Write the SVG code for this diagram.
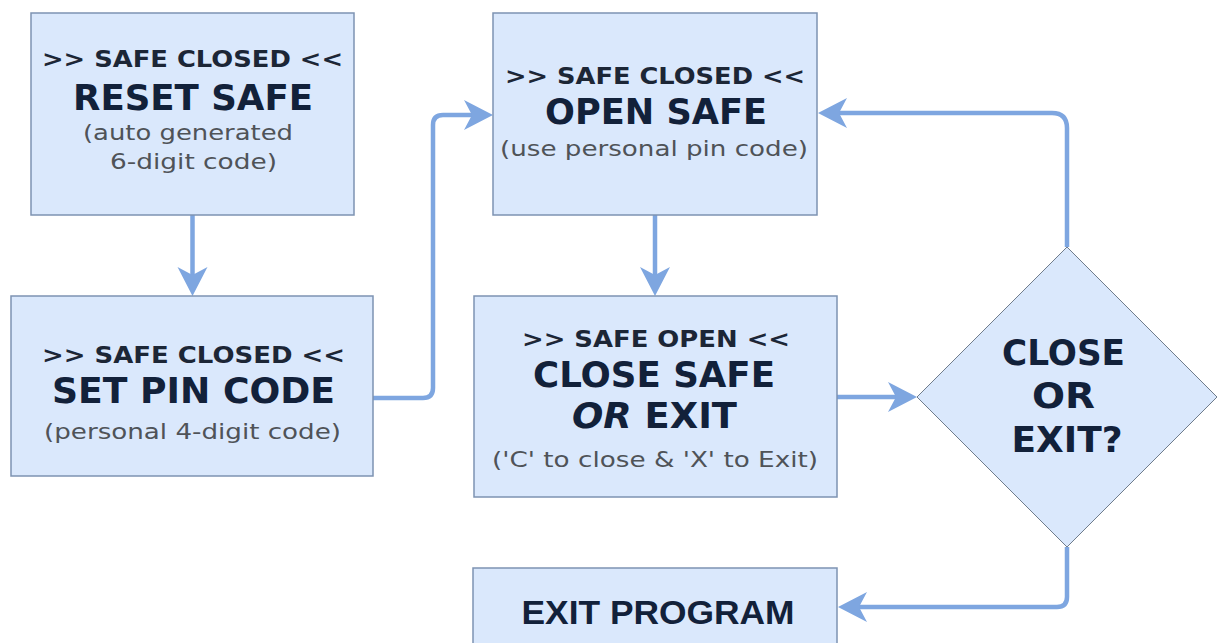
<svg xmlns="http://www.w3.org/2000/svg" width="1218" height="643" viewBox="0 0 1218 643">
  <style>
    .box { fill: #dae8fc; stroke: #7d93b2; stroke-width: 1.5; }
    .dia { fill: #dae8fc; stroke: #6f7c8c; stroke-width: 1; }
    .con { fill: none; stroke: #7ea6e0; stroke-width: 4.5; stroke-linecap: butt; stroke-linejoin: round; }
    .hdr { font-family: "DejaVu Sans", Verdana, sans-serif; font-weight: bold; font-size: 23px; fill: #1c2636; text-anchor: middle; }
    .big { font-family: "DejaVu Sans", Verdana, sans-serif; font-weight: bold; font-size: 35px; fill: #12213a; text-anchor: middle; }
    .sub { font-family: "DejaVu Sans", Verdana, sans-serif; font-size: 22px; fill: #4f5358; text-anchor: middle; }
    .arial { font-family: "Liberation Sans", Arial, sans-serif; font-weight: bold; font-size: 34px; fill: #12213a; text-anchor: middle; }
  </style>
  <defs>
    <marker id="ah" markerUnits="userSpaceOnUse" markerWidth="40" markerHeight="40" viewBox="-20 -20 40 40" refX="0" refY="0" orient="auto" overflow="visible">
      <path d="M-17,-15 L12,0 L-17,15 L-9,0 Z" fill="#7ea6e0"/>
    </marker>
  </defs>
  <rect width="1218" height="643" fill="#ffffff"/>

  <g id="connectors">
    <path class="con" d="M192.5,215 V284" marker-end="url(#ah)"/>
    <path class="con" d="M373,398 H423 Q433,398 433,388 V125 Q433,115 443,115 H481" marker-end="url(#ah)"/>
    <path class="con" d="M655,215 V284" marker-end="url(#ah)"/>
    <path class="con" d="M837,397 H905" marker-end="url(#ah)"/>
    <path class="con" d="M1067,247 V128 Q1067,113 1052,113 H830" marker-end="url(#ah)"/>
    <path class="con" d="M1067,547 V597 Q1067,607 1057,607 H850" marker-end="url(#ah)"/>
  </g>

  <g id="reset-safe">
    <rect class="box" x="31" y="13" width="323" height="202"/>
    <text class="hdr" x="192.5" y="67" textLength="301" lengthAdjust="spacingAndGlyphs">&gt;&gt; SAFE CLOSED &lt;&lt;</text>
    <text class="big" x="193" y="110" textLength="240" lengthAdjust="spacingAndGlyphs">RESET SAFE</text>
    <text class="sub" x="188" y="140" textLength="210" lengthAdjust="spacingAndGlyphs">(auto generated</text>
    <text class="sub" x="193.5" y="169" textLength="167" lengthAdjust="spacingAndGlyphs">6-digit code)</text>
  </g>

  <g id="set-pin-code">
    <rect class="box" x="11" y="296" width="362" height="180"/>
    <text class="hdr" x="193.5" y="363" textLength="303" lengthAdjust="spacingAndGlyphs">&gt;&gt; SAFE CLOSED &lt;&lt;</text>
    <text class="big" x="193.5" y="403" textLength="283" lengthAdjust="spacingAndGlyphs">SET PIN CODE</text>
    <text class="sub" x="192.5" y="439" textLength="297" lengthAdjust="spacingAndGlyphs">(personal 4-digit code)</text>
  </g>

  <g id="open-safe">
    <rect class="box" x="493" y="13" width="324" height="202"/>
    <text class="hdr" x="655" y="84" textLength="300" lengthAdjust="spacingAndGlyphs">&gt;&gt; SAFE CLOSED &lt;&lt;</text>
    <text class="big" x="656" y="124" textLength="222" lengthAdjust="spacingAndGlyphs">OPEN SAFE</text>
    <text class="sub" x="654" y="156" textLength="308" lengthAdjust="spacingAndGlyphs">(use personal pin code)</text>
  </g>

  <g id="close-safe-or-exit">
    <rect class="box" x="474" y="296" width="363" height="201"/>
    <text class="hdr" x="656" y="347" textLength="268" lengthAdjust="spacingAndGlyphs">&gt;&gt; SAFE OPEN &lt;&lt;</text>
    <text class="big" x="654" y="387" textLength="242" lengthAdjust="spacingAndGlyphs">CLOSE SAFE</text>
    <text class="big" x="654.5" y="428" textLength="165" lengthAdjust="spacingAndGlyphs"><tspan font-style="italic">OR</tspan> EXIT</text>
    <text class="sub" x="655" y="467" textLength="326" lengthAdjust="spacingAndGlyphs">('C' to close &amp; 'X' to Exit)</text>
  </g>

  <g id="close-or-exit">
    <polygon class="dia" points="1067,247 1217,397 1067,547 917,397"/>
    <text class="big" x="1063.5" y="365" textLength="123" lengthAdjust="spacingAndGlyphs">CLOSE</text>
    <text class="big" x="1063.5" y="408" textLength="63" lengthAdjust="spacingAndGlyphs">OR</text>
    <text class="big" x="1067" y="452" textLength="111" lengthAdjust="spacingAndGlyphs">EXIT?</text>
  </g>

  <g id="exit-program">
    <rect class="box" x="473" y="568" width="364" height="100"/>
    <text class="arial" x="658" y="624" textLength="273" lengthAdjust="spacingAndGlyphs">EXIT PROGRAM</text>
  </g>
</svg>
